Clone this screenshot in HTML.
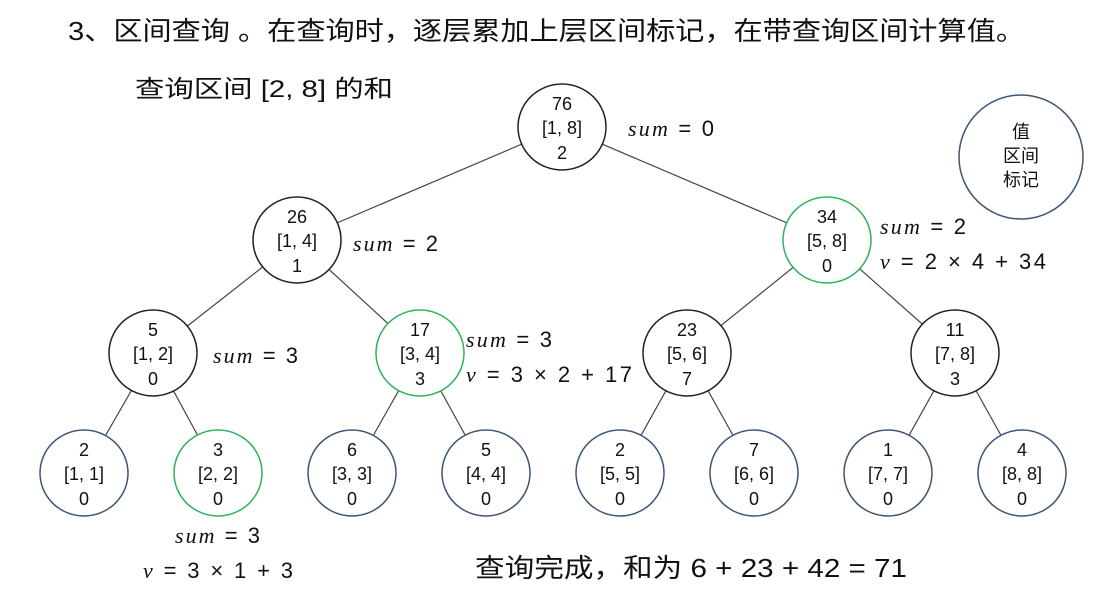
<!DOCTYPE html>
<html><head><meta charset="utf-8"><style>
body{margin:0;background:#fff;}
svg{display:block;font-family:"Liberation Sans","Noto Sans CJK SC",sans-serif;}
.n{font-size:18px;fill:#111;text-anchor:middle;}
.m{font-size:22px;fill:#111;}
.i{font-family:"Liberation Serif",serif;font-style:italic;}
</style></head><body>
<svg width="1108" height="595" viewBox="0 0 1108 595">
<text x="68" y="40" font-size="26" fill="#111" textLength="957" lengthAdjust="spacingAndGlyphs">3、区间查询 。在查询时，逐层累加上层区间标记，在带查询区间计算值。</text>
<text x="135" y="97" font-size="24" fill="#111" textLength="258" lengthAdjust="spacingAndGlyphs">查询区间 [2, 8] 的和</text>
<g stroke="#444" stroke-width="1.2">
<line x1="562" y1="127" x2="297" y2="240"/><line x1="562" y1="127" x2="827" y2="240"/>
<line x1="297" y1="240" x2="153" y2="353"/><line x1="297" y1="240" x2="420" y2="353"/>
<line x1="827" y1="240" x2="687" y2="353"/><line x1="827" y1="240" x2="955" y2="353"/>
<line x1="153" y1="353" x2="84" y2="473"/><line x1="153" y1="353" x2="218" y2="473"/>
<line x1="420" y1="353" x2="352" y2="473"/><line x1="420" y1="353" x2="486" y2="473"/>
<line x1="687" y1="353" x2="620" y2="473"/><line x1="687" y1="353" x2="754" y2="473"/>
<line x1="955" y1="353" x2="888" y2="473"/><line x1="955" y1="353" x2="1022" y2="473"/>
</g>
<g fill="#fff" stroke-width="1.5">
<ellipse cx="562" cy="127" rx="44" ry="43" stroke="#222"/>
<ellipse cx="297" cy="240" rx="44" ry="43" stroke="#222"/>
<ellipse cx="827" cy="240" rx="44" ry="43" stroke="#2db45a"/>
<ellipse cx="153" cy="353" rx="44" ry="43" stroke="#222"/>
<ellipse cx="420" cy="353" rx="44" ry="43" stroke="#2db45a"/>
<ellipse cx="687" cy="353" rx="44" ry="43" stroke="#222"/>
<ellipse cx="955" cy="353" rx="44" ry="43" stroke="#222"/>
<ellipse cx="84" cy="473" rx="44" ry="43" stroke="#3d5675"/>
<ellipse cx="218" cy="473" rx="44" ry="43" stroke="#2db45a"/>
<ellipse cx="352" cy="473" rx="44" ry="43" stroke="#3d5675"/>
<ellipse cx="486" cy="473" rx="44" ry="43" stroke="#3d5675"/>
<ellipse cx="620" cy="473" rx="44" ry="43" stroke="#3d5675"/>
<ellipse cx="754" cy="473" rx="44" ry="43" stroke="#3d5675"/>
<ellipse cx="888" cy="473" rx="44" ry="43" stroke="#3d5675"/>
<ellipse cx="1022" cy="473" rx="44" ry="43" stroke="#3d5675"/>
<ellipse cx="1021" cy="157" rx="62" ry="62" stroke="#3d5675"/>
</g>
<g class="n">
<text x="562" y="110">76</text><text x="562" y="134">[1, 8]</text><text x="562" y="159">2</text>
<text x="297" y="223">26</text><text x="297" y="247">[1, 4]</text><text x="297" y="272">1</text>
<text x="827" y="223">34</text><text x="827" y="247">[5, 8]</text><text x="827" y="272">0</text>
<text x="153" y="336">5</text><text x="153" y="360">[1, 2]</text><text x="153" y="385">0</text>
<text x="420" y="336">17</text><text x="420" y="360">[3, 4]</text><text x="420" y="385">3</text>
<text x="687" y="336">23</text><text x="687" y="360">[5, 6]</text><text x="687" y="385">7</text>
<text x="955" y="336">11</text><text x="955" y="360">[7, 8]</text><text x="955" y="385">3</text>
<text x="84" y="456">2</text><text x="84" y="480">[1, 1]</text><text x="84" y="505">0</text>
<text x="218" y="456">3</text><text x="218" y="480">[2, 2]</text><text x="218" y="505">0</text>
<text x="352" y="456">6</text><text x="352" y="480">[3, 3]</text><text x="352" y="505">0</text>
<text x="486" y="456">5</text><text x="486" y="480">[4, 4]</text><text x="486" y="505">0</text>
<text x="620" y="456">2</text><text x="620" y="480">[5, 5]</text><text x="620" y="505">0</text>
<text x="754" y="456">7</text><text x="754" y="480">[6, 6]</text><text x="754" y="505">0</text>
<text x="888" y="456">1</text><text x="888" y="480">[7, 7]</text><text x="888" y="505">0</text>
<text x="1022" y="456">4</text><text x="1022" y="480">[8, 8]</text><text x="1022" y="505">0</text>
<text x="1021" y="138">值</text><text x="1021" y="162">区间</text><text x="1021" y="186">标记</text>
</g>
<g class="m">
<text x="628" y="136" textLength="86"><tspan class="i">sum</tspan> = 0</text>
<text x="353" y="251" textLength="85"><tspan class="i">sum</tspan> = 2</text>
<text x="880" y="234" textLength="86"><tspan class="i">sum</tspan> = 2</text>
<text x="880" y="269" textLength="166"><tspan class="i">v</tspan> = 2 × 4 + 34</text>
<text x="213" y="363" textLength="85"><tspan class="i">sum</tspan> = 3</text>
<text x="466" y="347" textLength="86"><tspan class="i">sum</tspan> = 3</text>
<text x="466" y="382" textLength="166"><tspan class="i">v</tspan> = 3 × 2 + 17</text>
<text x="175" y="543" textLength="85"><tspan class="i">sum</tspan> = 3</text>
<text x="143" y="578" textLength="150"><tspan class="i">v</tspan> = 3 × 1 + 3</text>
</g>
<text x="475" y="577" font-size="26" fill="#111" textLength="432" lengthAdjust="spacingAndGlyphs">查询完成，和为 6 + 23 + 42 = 71</text>
</svg>
</body></html>
